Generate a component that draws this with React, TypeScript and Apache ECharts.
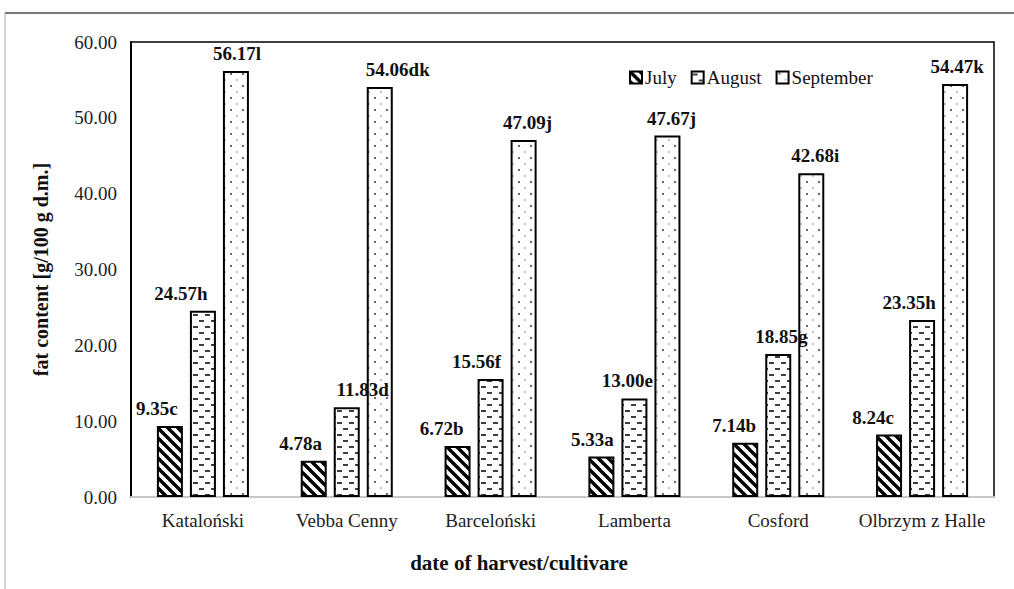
import React, { useEffect, useRef } from "react";
import * as echarts from "echarts";

const categories = ["Kataloński", "Vebba Cenny", "Barceloński", "Lamberta", "Cosford", "Olbrzym z Halle"];
const seriesNames = ["July", "August", "September"];
const julyValues = [9.35, 4.78, 6.72, 5.33, 7.14, 8.24];
const augustValues = [24.57, 11.83, 15.56, 13.0, 18.85, 23.35];
const septemberValues = [56.17, 54.06, 47.09, 47.67, 42.68, 54.47];
const julyLetters = ["c", "a", "b", "a", "b", "c"];
const augustLetters = ["h", "d", "f", "e", "g", "h"];
const septemberLetters = ["l", "dk", "j", "j", "i", "k"];
const yTicks = { min: 0, max: 60, interval: 10 };

const FONT = "Liberation Serif";

// horizontal nudges of the value labels, as placed in the original figure
const julyLabelShift = [-13, -13, -16, -9, -11, -16];
const augustLabelShift = [-22, 16, -14, -7, 3, -13];
const septemberLabelShift = [1, 18, 4, 4, 4, 2];

function tile(w: number, h: number, draw: (ctx: CanvasRenderingContext2D) => void) {
  const c = document.createElement("canvas");
  c.width = w;
  c.height = h;
  const ctx = c.getContext("2d") as CanvasRenderingContext2D;
  ctx.fillStyle = "#fff";
  ctx.fillRect(0, 0, w, h);
  draw(ctx);
  return c;
}

function julyPattern() {
  return tile(10, 10, (ctx) => {
    ctx.strokeStyle = "#000";
    ctx.lineWidth = 3.4;
    for (const k of [-10, 0, 10]) {
      ctx.beginPath();
      ctx.moveTo(k - 1, -1);
      ctx.lineTo(k + 11, 11);
      ctx.stroke();
    }
  });
}
function augustPattern() {
  return tile(12, 12, (ctx) => {
    ctx.strokeStyle = "#000";
    ctx.lineWidth = 1.6;
    ctx.beginPath();
    ctx.moveTo(1, 3);
    ctx.lineTo(6, 3);
    ctx.moveTo(7, 9);
    ctx.lineTo(12, 9);
    ctx.stroke();
  });
}
function septemberPattern() {
  return tile(12, 12, (ctx) => {
    ctx.fillStyle = "#222";
    ctx.beginPath();
    ctx.arc(3, 2, 0.9, 0, Math.PI * 2);
    ctx.fill();
    ctx.fillStyle = "#777";
    ctx.beginPath();
    ctx.arc(9, 8, 0.8, 0, Math.PI * 2);
    ctx.fill();
  });
}

export default function App() {
  const ref = useRef<HTMLDivElement>(null);
  useEffect(() => {
    if (!ref.current) return;
    const chart = echarts.init(ref.current, undefined, { renderer: "svg" });
    const patterns = [julyPattern(), augustPattern(), septemberPattern()];
    const values = [julyValues, augustValues, septemberValues];
    const letters = [julyLetters, augustLetters, septemberLetters];
    const shifts = [julyLabelShift, augustLabelShift, septemberLabelShift];
    const series = seriesNames.map((name, i) => ({
      name,
      type: "bar",
      barWidth: 26,
      barGap: "27%",
      itemStyle: {
        color: { image: patterns[i], repeat: "repeat" },
        borderColor: "#000",
        borderWidth: 2,
      },
      data: values[i].map((v, j) => ({
        value: v,
        label: { offset: [shifts[i][j], 0] },
      })),
      label: {
        show: true,
        position: "top",
        distance: 8,
        color: "#111",
        fontFamily: FONT,
        fontWeight: "bold",
        fontSize: 19,
        formatter: (p: any) => values[i][p.dataIndex].toFixed(2) + letters[i][p.dataIndex],
      },
    }));
    chart.setOption({
      animation: false,
      backgroundColor: "#fff",
      textStyle: { fontFamily: FONT },
      grid: {
        left: 131,
        right: 20,
        top: 42,
        bottom: 92,
        show: true,
        borderColor: "#000",
        borderWidth: 1.5,
        backgroundColor: "transparent",
      },
      legend: {
        data: seriesNames,
        left: 624,
        top: 63,
        itemWidth: 12,
        itemHeight: 12,
        itemGap: 14,
        icon: "rect",
        textStyle: { fontFamily: FONT, fontSize: 19, color: "#111", padding: [0, 0, 0, -2] },
      },
      xAxis: {
        type: "category",
        data: categories,
        axisLine: { lineStyle: { color: "#c8c8c8", width: 2 } },
        axisTick: { show: false },
        axisLabel: { interval: 0, fontFamily: FONT, fontSize: 19, color: "#222", margin: 14 },
      },
      yAxis: {
        type: "value",
        min: yTicks.min,
        max: yTicks.max,
        interval: yTicks.interval,
        name: "fat content [g/100 g d.m.]",
        nameLocation: "middle",
        nameGap: 80,
        nameTextStyle: { fontFamily: FONT, fontSize: 20, fontWeight: "bold", color: "#111" },
        axisLine: { show: true, lineStyle: { color: "#000", width: 2 } },
        axisTick: { show: false },
        splitLine: { show: false },
        axisLabel: {
          fontFamily: FONT,
          fontSize: 19,
          color: "#222",
          margin: 14,
          formatter: (v: number) => v.toFixed(2),
        },
      },
      graphic: [
        {
          type: "line",
          shape: { x1: 5, y1: 13, x2: 1014, y2: 13 },
          style: { stroke: "#777", lineWidth: 2 },
        },
        {
          type: "line",
          shape: { x1: 5, y1: 13, x2: 5, y2: 589 },
          style: { stroke: "#aaa", lineWidth: 1 },
        },
        {
          type: "text",
          x: 519,
          y: 563,
          style: {
            text: "date of harvest/cultivare",
            fontFamily: FONT,
            fontSize: 21,
            fontWeight: "bold",
            fill: "#111",
            textAlign: "center",
            textVerticalAlign: "middle",
          },
        },
      ],
      series,
    });
    return () => chart.dispose();
  }, []);
  return (
    <div
      ref={ref}
      style={{ position: "fixed", left: 0, top: 0, width: 1014, height: 589, background: "#fff" }}
    />
  );
}
